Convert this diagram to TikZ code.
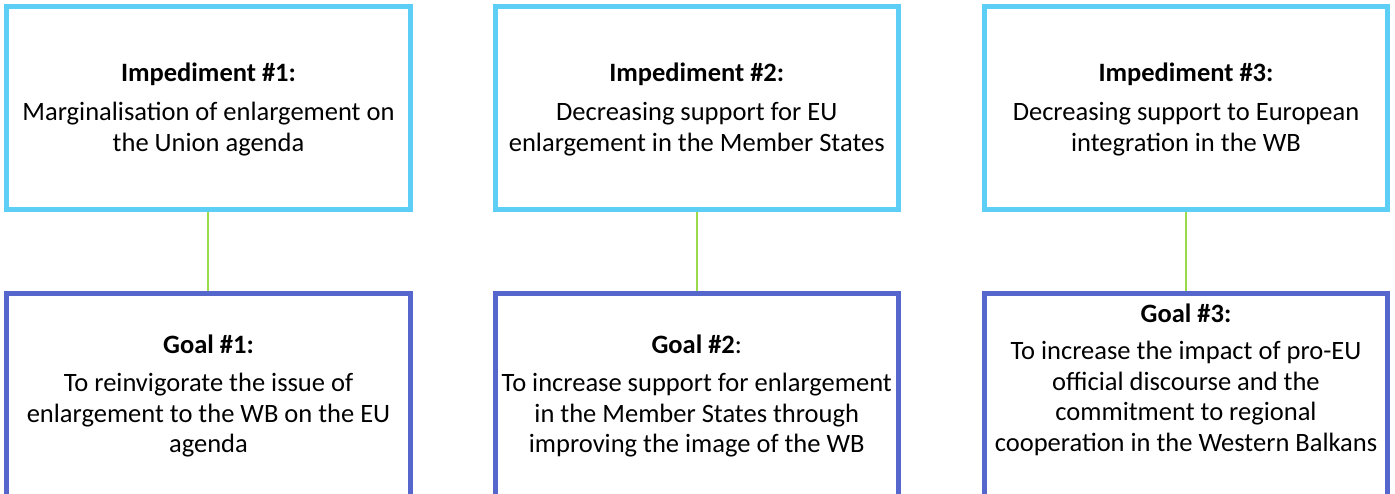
\documentclass[tikz,border=0pt]{standalone}
\usepackage{fontspec}
\setmainfont{Carlito}
\definecolor{topblue}{HTML}{5DCEF5}
\definecolor{goalblue}{HTML}{5567CC}
\definecolor{linkgreen}{HTML}{9ADB4C}
\begin{document}
\begin{tikzpicture}[x=1pt,y=-1pt,
  impbox/.style={draw=topblue,line width=5pt,fill=white,minimum width=403.5pt,minimum height=202.5pt,inner sep=0pt},
  goalbox/.style={draw=goalblue,line width=5pt,fill=white,minimum width=403.5pt,minimum height=266.5pt,inner sep=0pt},
  link/.style={draw=linkgreen,line width=1.6pt},
  head/.style={font=\fontsize{26.5}{30.5}\selectfont\bfseries,inner sep=0pt,anchor=base},
  % multi-line texts are placed by the baseline of their last line
  body/.style={font=\fontsize{26.5}{30.5}\selectfont,inner sep=0pt,align=center,anchor=base}]
\useasboundingbox (0,0) rectangle (1395,493);
\clip (0,0) rectangle (1395,493);

% impediment boxes
\node[impbox] (i1) at (208.25,107.75) {};
\node[impbox] (i2) at (696.75,107.75) {};
\node[impbox] (i3) at (1186,107.75) {};

% goal boxes, running past the lower edge
\node[goalbox] (g1) at (208.25,426.75) {};
\node[goalbox] (g2) at (696.75,426.75) {};
\node[goalbox] (g3) at (1186,426.75) {};

% connectors
\draw[link] (i1.south) -- (g1.north);
\draw[link] (i2.south) -- (g2.north);
\draw[link] (i3.south) -- (g3.north);

% impediment texts
\node[head] (h1) at (208.5,81.5) {Impediment \#1:};
\node[body] (t1) at (208.5,151) {Marginalisation of enlargement on\\the Union agenda};
\node[head] (h2) at (696.75,81.5) {Impediment \#2:};
\node[body] (t2) at (696.75,151) {Decreasing support for EU\\enlargement in the Member States};
\node[head] (h3) at (1186,81.5) {Impediment \#3:};
\node[body] (t3) at (1186,151) {Decreasing support to European\\integration in the WB};

% goal texts
\node[head] (k1) at (208.5,353) {Goal \#1:};
\node[body] (u1) at (208.5,452.5) {To reinvigorate the issue of\\enlargement to the WB on the EU\\agenda};
\node[head] (k2) at (696.75,353) {Goal \#2\mdseries:};
\node[body] (u2) at (696.75,452.5) {To increase support for enlargement\\in the Member States through\\improving the image of the WB};
\node[head] (k3) at (1186,322) {Goal \#3:};
\node[body] (u3) at (1186,451) {To increase the impact of pro-EU\\official discourse and the\\commitment to regional\\cooperation in the Western Balkans};
\end{tikzpicture}
\end{document}
